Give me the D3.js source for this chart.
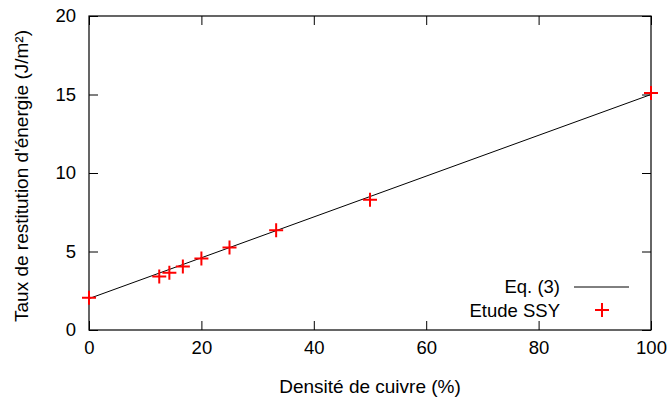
<!DOCTYPE html>
<html>
<head>
<meta charset="utf-8">
<script src="https://cdn.jsdelivr.net/npm/d3@7"></script>
<style>
  body { margin: 0; background: #fff; }
  svg text { font-family: "Liberation Sans", Arial, sans-serif; fill: #000; }
</style>
</head>
<body>
<div id="chart"></div>
<script>
// copper density (%) and measured energy release rate (J/m²)
var densite = [0, 12.5, 14.3, 16.7, 20, 25, 33.3, 50, 100];
var taux = [2.05, 3.4, 3.65, 4.05, 4.55, 5.25, 6.35, 8.3, 15.1];

// Eq. (3) endpoints
var eqX = [0, 100];
var eqY = [2, 15];

var xTicks = [0, 20, 40, 60, 80, 100];
var yTicks = [0, 5, 10, 15, 20];

var width = 671, height = 401;
var margin = { top: 16, right: 20, bottom: 71, left: 89 };
var tickLen = 9;
var fs = '18.5px';

var svg = d3.select('#chart').append('svg')
  .attr('width', width)
  .attr('height', height);

var x = d3.scaleLinear().domain([0, 100]).range([margin.left, width - margin.right]);
var y = d3.scaleLinear().domain([0, 20]).range([height - margin.bottom, margin.top]);

var plot = svg.append('g');

// ticks on all four sides, pointing inward (gnuplot style)
var tickStyle = function(g) {
  g.select('.domain').remove();
  g.selectAll('.tick line').attr('stroke', '#000').attr('stroke-width', 1);
};

plot.append('g')
  .attr('transform', 'translate(0,' + y(0) + ')')
  .call(d3.axisBottom(x).tickValues(xTicks).tickSize(-tickLen).tickPadding(11).tickFormat(d3.format('d')))
  .call(tickStyle)
  .selectAll('text').style('font-size', fs).attr('dy', '0.71em');

plot.append('g')
  .attr('transform', 'translate(0,' + y(20) + ')')
  .call(d3.axisTop(x).tickValues(xTicks).tickSize(-tickLen).tickFormat(''))
  .call(tickStyle);

plot.append('g')
  .attr('transform', 'translate(' + x(0) + ',0)')
  .call(d3.axisLeft(y).tickValues(yTicks).tickSize(-tickLen).tickPadding(13).tickFormat(d3.format('d')))
  .call(tickStyle)
  .selectAll('text').style('font-size', fs);

plot.append('g')
  .attr('transform', 'translate(' + x(100) + ',0)')
  .call(d3.axisRight(y).tickValues(yTicks).tickSize(-tickLen).tickFormat(''))
  .call(tickStyle);

// border
plot.append('rect')
  .attr('x', x(0)).attr('y', y(20))
  .attr('width', x(100) - x(0)).attr('height', y(0) - y(20))
  .attr('fill', 'none').attr('stroke', '#000').attr('stroke-width', 1.2);

// Eq. (3) line
var line = d3.line().x(function(d) { return x(d[0]); }).y(function(d) { return y(d[1]); });
plot.append('path')
  .datum(d3.zip(eqX, eqY))
  .attr('d', line)
  .attr('fill', 'none')
  .attr('stroke', '#000')
  .attr('stroke-width', 1);

// data points as red plus signs
var plus = 'M-7,0H7M0,-7V7';
plot.selectAll('.pt')
  .data(d3.zip(densite, taux))
  .enter().append('path')
  .attr('class', 'pt')
  .attr('transform', function(d) { return 'translate(' + x(d[0]) + ',' + y(d[1]) + ')'; })
  .attr('d', plus)
  .attr('stroke', '#ff0000')
  .attr('stroke-width', 2)
  .attr('fill', 'none');

// legend
var legend = svg.append('g');
legend.append('text')
  .attr('x', 560).attr('y', 293)
  .attr('text-anchor', 'end')
  .style('font-size', fs)
  .text('Eq. (3)');
legend.append('line')
  .attr('x1', 574).attr('x2', 629)
  .attr('y1', 287).attr('y2', 287)
  .attr('stroke', '#000').attr('stroke-width', 1);
legend.append('text')
  .attr('x', 560).attr('y', 317)
  .attr('text-anchor', 'end')
  .style('font-size', fs)
  .text('Etude SSY');
legend.append('path')
  .attr('transform', 'translate(602,310)')
  .attr('d', plus)
  .attr('stroke', '#ff0000')
  .attr('stroke-width', 2)
  .attr('fill', 'none');

// axis labels
svg.append('text')
  .attr('x', (x(0) + x(100)) / 2)
  .attr('y', 393)
  .attr('text-anchor', 'middle')
  .style('font-size', '19px')
  .text('Densité de cuivre (%)');

svg.append('text')
  .attr('transform', 'translate(28,176) rotate(-90)')
  .attr('text-anchor', 'middle')
  .style('font-size', '19px')
  .text("Taux de restitution d'énergie (J/m²)");
</script>
</body>
</html>
